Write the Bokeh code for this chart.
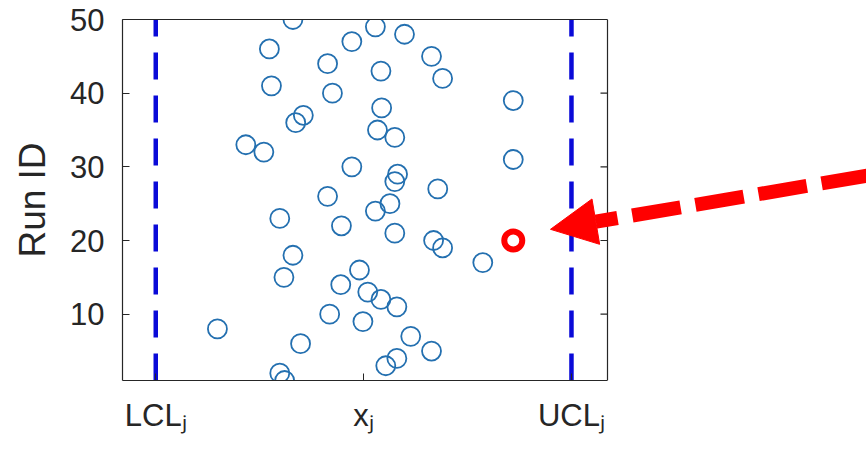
from bokeh.plotting import figure
from bokeh.models import (Range1d, FixedTicker, LinearAxis, Arrow, NormalHead,
                          ColumnDataSource, Span)
from bokeh.embed import file_html
from bokeh.resources import INLINE

# ---- data (x in units where LCL_j = -3, x_j = 0, UCL_j = 3) ----
run_id = list(range(1, 51))
x_vals = [-1.14, -1.21, 0.32, 0.48, 0.98, -0.91, 0.68, -2.11, -0.01, -0.49,
          0.48, 0.25, 0.06, -0.33, -1.15, -0.06, 1.72, -1.02, 1.14, 1.01,
          0.45, -0.32, -1.21, 0.17, 0.38, -0.52, 1.07, 0.45, 0.49, -0.17,
          2.16, -1.44, -1.70, 0.45, 0.20, -0.98, -0.87, 0.26, 2.16, -0.45,
          -1.33, 1.14, 0.25, -0.52, 0.98, -1.36, -0.17, 0.59, 0.17, -1.02]
outlier_x = [2.16]
outlier_id = [20]
limits = [-3, 3]
x_tick_pos = [-3, 0, 3]
x_tick_labels = ["LCL\u2c7c", "x\u2c7c", "UCL\u2c7c"]
y_ticks = [10, 20, 30, 40, 50]

FONT = "Liberation Sans"
TXT = "#262626"

# axes box spans x in [BOX_L, BOX_R]; the frame continues to the right so the
# annotation arrow (which lives outside the box) is not clipped
BOX_L, BOX_R = -3.48, 3.52
PX_PER_UNIT = 485 / (BOX_R - BOX_L)
X_END = BOX_L + 744 / PX_PER_UNIT
TICK_LEN = 7 / PX_PER_UNIT

p = figure(width=866, height=453, output_backend="svg", toolbar_location=None,
           x_range=Range1d(BOX_L, X_END), y_range=Range1d(1, 50),
           min_border_left=122, min_border_right=0, min_border_top=19,
           min_border_bottom=73)
p.grid.visible = False
p.outline_line_color = None
p.background_fill_color = "white"
p.border_fill_color = "white"

# axes
xa = p.xaxis[0]
xa.ticker = FixedTicker(ticks=x_tick_pos)
xa.major_label_overrides = {k: v for k, v in zip(x_tick_pos, x_tick_labels)}
xa.bounds = (BOX_L, BOX_R)
ya = p.yaxis[0]
ya.ticker = FixedTicker(ticks=y_ticks)
ya.axis_label = "Run ID"
for ax in (xa, ya):
    ax.axis_line_color = TXT
    ax.axis_line_width = 1.2
    ax.major_tick_line_color = TXT
    ax.major_tick_in = 7
    ax.major_tick_out = 0
    ax.minor_tick_line_color = None
    ax.major_label_text_font = FONT
    ax.major_label_text_font_size = "31px"
    ax.major_label_text_color = TXT
xa.major_label_standoff = 17
ya.major_label_standoff = 18
ya.axis_label_text_font = FONT
ya.axis_label_text_font_size = "37px"
ya.axis_label_text_font_style = "normal"
ya.axis_label_text_color = TXT
ya.axis_label_standoff = 14

# top edge of the box
ta = LinearAxis(ticker=FixedTicker(ticks=[]), bounds=(BOX_L, BOX_R),
                axis_line_color=TXT, axis_line_width=1.2, major_tick_in=0,
                major_tick_out=0, minor_tick_line_color=None,
                major_label_text_alpha=0, major_label_standoff=0,
                major_label_text_font_size="1px")
p.add_layout(ta, "above")

# right edge of the box with inward ticks
p.add_layout(Span(location=BOX_R, dimension="height", line_color=TXT, line_width=1.2))
p.segment(x0=[BOX_R - TICK_LEN] * len(y_ticks), y0=y_ticks,
          x1=[BOX_R] * len(y_ticks), y1=y_ticks, line_color=TXT, line_width=1.2)

# control limits
p.segment(x0=limits, y0=[1, 1], x1=limits, y1=[50, 50], line_color="#0a0ad8",
          line_width=4.5, line_dash="27 16")

# runs
src = ColumnDataSource(dict(x=x_vals, y=run_id))
p.scatter("x", "y", source=src, marker="circle", size=19, fill_color=None,
          line_color="#2470b0", line_width=1.8)
p.scatter(outlier_x, outlier_id, marker="circle", size=18, fill_color=None,
          line_color="#ff0000", line_width=6)

# annotation arrow pointing at the out-of-control run
arrow = Arrow(start=NormalHead(size=46, fill_color="#ff0000", line_color="#ff0000"),
              end=None, x_start=2.697, y_start=21.52, x_end=7.75, y_end=29.56,
              line_color="#ff0000", line_width=14, line_dash="49 15",
              line_dash_offset=45)
p.add_layout(arrow)

open("out.html", "w").write(file_html(p, INLINE))
